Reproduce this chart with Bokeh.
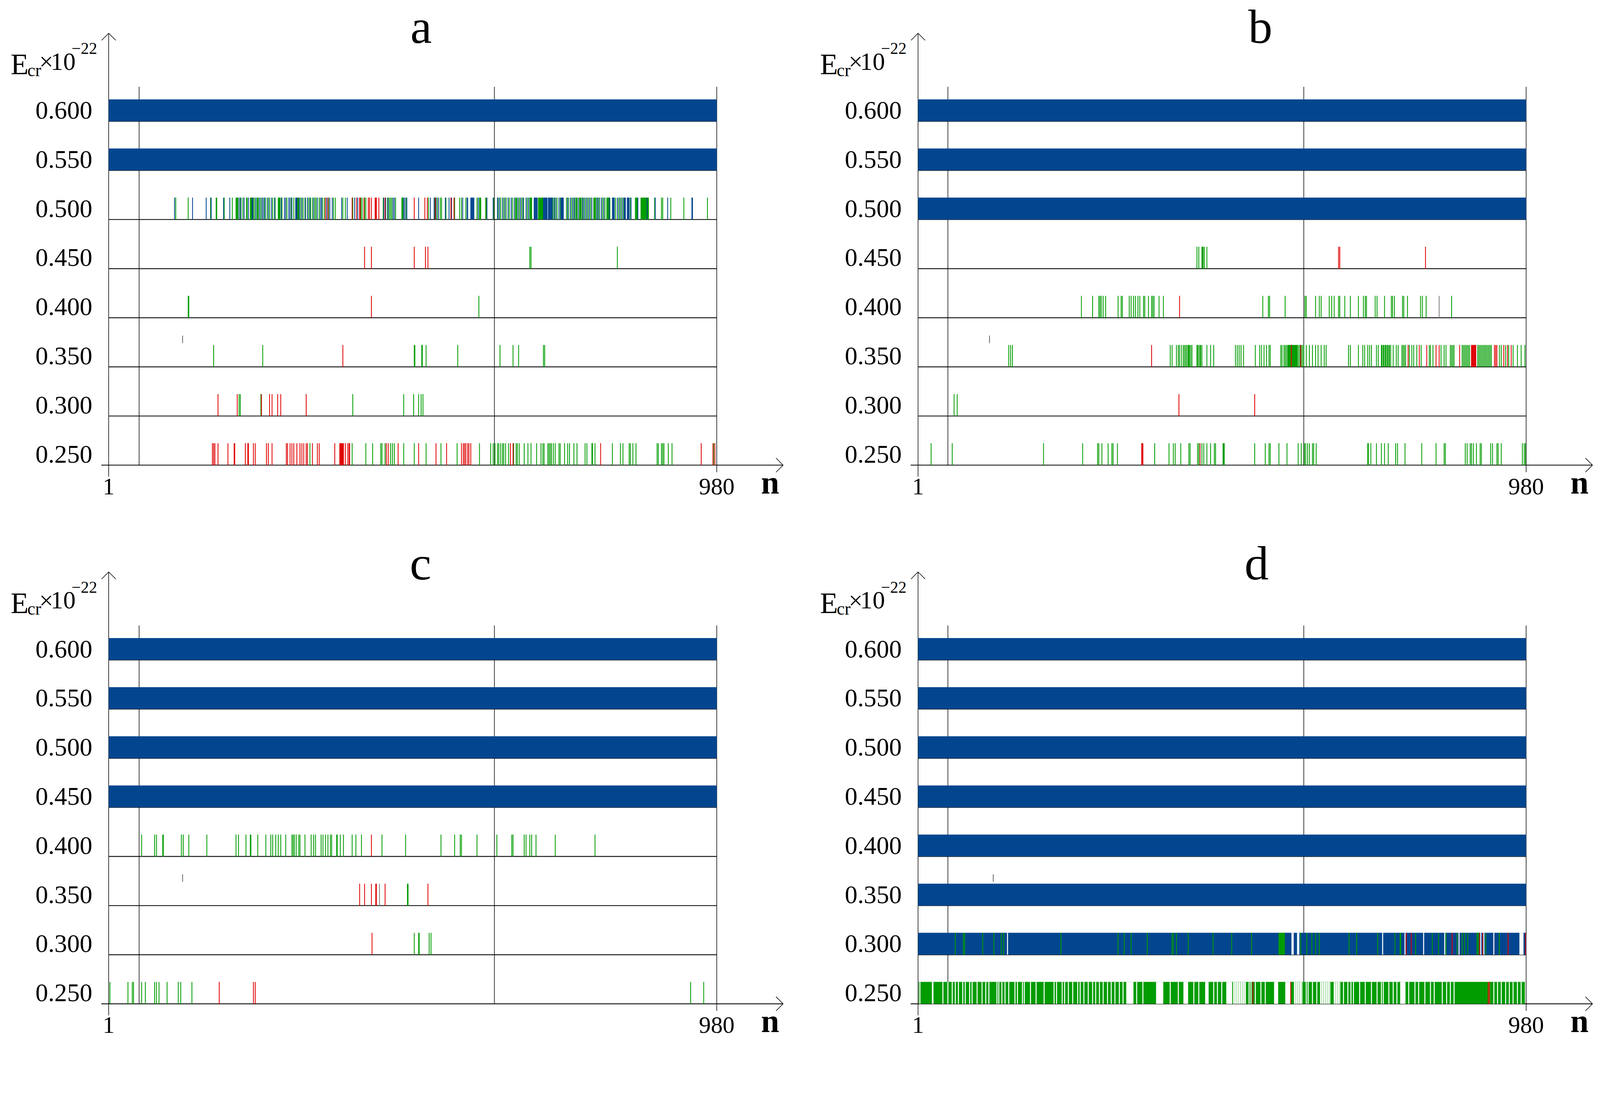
from bokeh.plotting import figure
from bokeh.layouts import column, row
from bokeh.embed import file_html
from bokeh.resources import INLINE
from bokeh.core.properties import value

GREEN = "#009c00"
RED = "#e00000"
BLUE = "#03468f"
GRAY = "#808080"
FONT = value("Liberation Serif")

levels = [0.250, 0.300, 0.350, 0.400, 0.450, 0.500, 0.550, 0.600]
level_labels = ["0.250", "0.300", "0.350", "0.400", "0.450", "0.500", "0.550", "0.600"]
n_first, n_last = 1, 980

# ---- panel a ----
a_full = [0.55, 0.60]
a_500_green = [109, 129, 165, 174, 175, 187, 200, 206, 207, 208, 209, 213, 217, 223, 224, 229, 230, 231,
               234, 236, 240, 241, 242, 246, 252, 256, 260, 265, 269, 274, 275, 276, 277, 280, 288, 295,
               299, 305, 306, 307, 310, 314, 318, 323, 326, 329, 333, 335, 340, 345, 348, 355, 363, 366,
               378, 382, 394, 407, 409, 413, 415, 443, 450, 453, 455, 457, 463, 473, 474, 475, 480, 516,
               526, 530, 535, 537, 544, 558, 566, 569, 576, 594, 598, 599, 600, 608, 609, 621, 628, 632,
               637, 641, 646, 651, 656, 657, 658, 662, 666, 669, 675, 679, 680, 681, 682, 693, 694, 695,
               696, 697, 698, 699, 700, 716, 719, 723, 728, 738, 741, 746, 750, 753, 754, 755, 759, 760,
               761, 762, 765, 769, 773, 777, 782, 783, 784, 785, 788, 791, 796, 800, 803, 804, 805, 806,
               808, 817, 822, 826, 830, 841, 849, 850, 851, 852, 858, 859, 860, 861, 862, 863, 864, 865,
               866, 867, 869, 870, 880, 891, 893, 906, 927, 965]
a_500_blue = [107, 136, 158, 166, 186, 196, 211, 214, 219, 226, 232, 233, 238, 244, 248, 250, 253, 258,
              263, 268, 279, 284, 286, 291, 293, 296, 302, 303, 304, 308, 312, 317, 321, 325, 331, 337,
              342, 344, 352, 357, 361, 376, 385, 397, 402, 444, 447, 451, 459, 461, 476, 478, 481, 500,
              519, 525, 528, 532, 543, 549, 553, 571, 578, 579, 584, 585, 586, 587, 588, 589, 596, 610,
              620, 627, 630, 635, 639, 644, 649, 654, 660, 664, 668, 673, 677, 686, 687, 688, 689, 690,
              691, 701, 702, 703, 704, 705, 706, 707, 709, 710, 711, 712, 713, 714, 715, 718, 721, 726,
              729, 730, 731, 732, 733, 740, 744, 748, 751, 757, 764, 767, 771, 775, 779, 787, 790, 794,
              798, 807, 812, 813, 814, 815, 820, 824, 828, 831, 832, 833, 836, 837, 838, 839, 842, 853,
              868, 881, 901, 940, 941]
a_500_red = [350, 354, 393, 400, 405, 406, 412, 419, 421, 424, 430, 431, 432, 436, 446, 493, 510, 514,
             527, 552, 557]
a_450_red = [413, 424, 493, 511, 515]
a_450_green = [679, 681, 820]
a_400_green = [129, 130, 597]
a_400_red = [424]
a_350_green = [170, 249, 493, 494, 505, 506, 512, 563, 631, 652, 661, 701, 703]
a_350_red = [378]
a_300_red = [177, 208, 247, 260, 264, 273, 278, 319]
a_300_green = [211, 213, 246, 394, 476, 492, 500, 504, 507]
a_250_red = [168, 170, 172, 177, 193, 203, 204, 221, 225, 226, 234, 237, 255, 258, 264, 287, 289, 293,
             296, 299, 304, 309, 312, 315, 319, 321, 329, 337, 340, 365, 373, 374, 375, 376, 377, 378,
             379, 382, 386, 388, 389, 448, 451, 467, 500, 528, 545, 569, 572, 574, 576, 579, 581, 584,
             648, 652, 793, 955, 974, 977]
a_250_green = [325, 393, 415, 426, 439, 441, 446, 455, 458, 461, 476, 493, 512, 536, 562, 598, 616, 620,
               623, 627, 629, 632, 635, 637, 640, 645, 653, 657, 659, 662, 670, 676, 681, 690, 697, 700,
               702, 708, 710, 712, 714, 717, 720, 726, 728, 735, 740, 743, 750, 755, 768, 771, 779, 780,
               784, 812, 825, 829, 839, 841, 845, 850, 884, 886, 891, 893, 895, 902, 908, 975]

# ---- panel b ----
b_full = [0.50, 0.55, 0.60]
b_450_green = [450, 453, 458, 459, 460, 462, 466]
b_450_red = [678, 680, 818]
b_400_green = [264, 282, 292, 294, 296, 299, 303, 323, 328, 330, 341, 344, 348, 351, 355, 358, 364, 366,
               372, 377, 379, 381, 389, 396, 556, 565, 567, 592, 624, 626, 641, 647, 650, 663, 667, 671,
               678, 680, 688, 697, 710, 718, 721, 723, 737, 740, 752, 763, 765, 768, 781, 783, 789, 810,
               813, 819, 860]
b_400_red = [422]
b_400_gray = [840]
b_350_green = [147, 150, 153, 407, 410, 417, 420, 422, 425, 428, 430, 432, 434, 436, 437, 438, 440, 442,
               450, 451, 453, 455, 456, 458, 466, 472, 477, 512, 515, 518, 521, 525, 544, 551, 554, 558,
               562, 566, 568, 585, 587, 590, 592, 594, 596, 597, 598, 599, 600, 601, 603, 604, 605, 606,
               607, 608, 609, 610, 611, 612, 614, 616, 618, 620, 622, 626, 631, 636, 641, 645, 650, 655,
               658, 694, 697, 710, 717, 720, 725, 728, 731, 739, 742, 747, 748, 750, 751, 753, 754, 756,
               757, 759, 760, 762, 766, 771, 774, 780, 782, 784, 786, 792, 796, 799, 804, 811, 824, 826,
               830, 843, 848, 851, 858, 860, 862, 864, 877, 879, 881, 883, 885, 887, 889, 902, 904, 906,
               908, 910, 912, 914, 916, 918, 920, 922, 924, 937, 940, 947, 952, 959, 966, 972, 978]
b_350_red = [377, 602, 617, 790, 808, 820, 835, 840, 873, 892, 893, 894, 895, 896, 897, 898, 899, 929,
             931, 933, 944, 950, 956]
b_300_green = [59, 64]
b_300_red = [421, 543]
b_250_green = [22, 56, 203, 266, 290, 292, 297, 307, 313, 315, 322, 382, 405, 412, 415, 424, 437, 439,
               451, 453, 458, 461, 466, 472, 478, 480, 492, 493, 494, 543, 560, 566, 568, 582, 595, 613,
               618, 623, 625, 628, 631, 636, 638, 642, 725, 726, 730, 739, 747, 752, 758, 770, 773, 785,
               812, 835, 848, 850, 882, 885, 890, 892, 895, 900, 906, 908, 923, 926, 933, 935, 940, 974,
               977, 979]
b_250_red = [361, 362, 363, 455]

# ---- panel c ----
c_full = [0.45, 0.50, 0.55, 0.60]
c_400_green = [54, 75, 78, 88, 89, 118, 121, 130, 159, 206, 210, 222, 229, 230, 241, 254, 262, 265, 270,
               274, 278, 286, 296, 298, 300, 303, 307, 309, 317, 327, 331, 334, 343, 346, 350, 354, 358,
               360, 368, 369, 374, 379, 393, 399, 408, 441, 479, 536, 558, 567, 569, 594, 626, 650, 652,
               670, 673, 679, 682, 689, 720, 784]
c_400_red = [424]
c_350_red = [405, 413, 424, 431, 432, 446, 515]
c_350_green = [482, 483]
c_350_gray = [437]
c_300_red = [425]
c_300_green = [493, 500, 501, 517, 520]
c_250_green = [3, 32, 39, 41, 54, 60, 75, 78, 82, 95, 113, 117, 135, 938, 959]
c_250_red = [179, 234, 237]

# ---- panel d ----
d_full = [0.35, 0.40, 0.45, 0.50, 0.55, 0.60]
d_300_green = [61, 74, 76, 105, 123, 135, 139, 231, 323, 333, 344, 370, 410, 412, 417, 436, 476, 506,
               538, 582, 583, 584, 585, 586, 587, 588, 589, 590, 591, 617, 627, 635, 641, 647, 695, 707,
               741, 769, 777, 778, 802, 829, 839, 851, 869, 877, 881, 886, 901, 902, 904, 915, 937]
d_300_gap = [145, 603, 604, 605, 612, 613, 614, 749, 785, 815, 849, 872, 907, 912, 928, 970, 971, 972,
             973, 974, 975]
d_300_red = [787, 795, 861, 905, 910, 951, 979]
d_250_gap = [4, 24, 25, 41, 49, 56, 61, 66, 73, 77, 84, 88, 96, 104, 110, 115, 128, 131, 136, 141, 147,
             157, 161, 169, 172, 182, 191, 204, 220, 224, 233, 237, 243, 250, 258, 262, 268, 275, 282,
             287, 293, 299, 306, 312, 318, 325, 331, 337, 338, 339, 340, 341, 342, 343, 344, 345, 346,
             347, 353, 363, 385, 386, 387, 388, 389, 390, 391, 392, 393, 394, 395, 407, 420, 429, 430,
             431, 432, 433, 434, 435, 445, 453, 464, 465, 466, 467, 468, 477, 483, 490, 498, 499, 500,
             501, 502, 503, 504, 505, 506, 509, 510, 512, 513, 515, 516, 518, 519, 521, 522, 524, 525,
             527, 528, 534, 537, 544, 553, 560, 575, 576, 577, 578, 579, 580, 593, 594, 595, 596, 597,
             598, 599, 600, 607, 608, 610, 611, 613, 614, 616, 617, 619, 626, 629, 636, 643, 649, 650,
             652, 653, 655, 656, 658, 659, 661, 662, 664, 671, 672, 674, 675, 677, 678, 680, 686, 693,
             698, 702, 712, 721, 731, 740, 747, 750, 759, 766, 772, 778, 779, 780, 781, 782, 783, 784,
             785, 791, 801, 807, 817, 826, 832, 845, 852, 858, 864, 921, 928, 934, 940, 947, 953, 959,
             966, 972]
d_250_red = [540, 601, 919, 921]

# geometry: measured in screenshot pixels (R), S turns them into CSS pixels
S = 4096 / 4306
PXN = 1.6715 * S          # CSS px per n
PXY = 2645.0 * S          # CSS px per E unit
HB = 0.01115              # half height of a row band
X0 = 1 - (292 * S) / PXN
BASE_R = 1251.7           # screenshot y of the lowest row baseline in panel a
MID = 0.3375              # em distance from alphabetic baseline up to the em-box middle


def fs(v):
    return "%.1fpx" % (v * S)


def marks(p, level, ns, color, w=1.3):
    if ns:
        p.vbar(x=ns, width=w, bottom=level - HB, top=level + HB,
               fill_color=color, line_color=None)


def band(p, level, color, left=n_first, right=n_last):
    p.quad(left=[left], right=[right], bottom=[level - HB], top=[level + HB],
           fill_color=color, line_color=None)


def label(p, x, y, txt, size, align="left", style="normal"):
    # y is the wanted alphabetic baseline (data units); draw with middle baseline
    p.text(x=[x], y=[y + MID * size / 2645], text=[txt], text_align=align,
           text_baseline="middle", text_font=FONT, text_font_size=fs(size),
           text_font_style=style, text_color="black")


def panel(title, title_n, title_px, width, height, top_css, dy_r, grid_n, art_n, layers):
    b0 = levels[0] - HB
    y_top = b0 + (BASE_R + dy_r - top_css / S) / 2645

    def yr(r):  # screenshot y (panel a frame) -> data
        return b0 + (BASE_R - r) / 2645

    p = figure(width=width, height=height, x_range=(X0, X0 + width / PXN),
               y_range=(y_top - height / PXY, y_top), output_backend="svg",
               toolbar_location=None, min_border=0, x_axis_type=None, y_axis_type=None)
    p.grid.visible = False
    p.outline_line_color = None

    base = [v - HB for v in levels]
    arrow_top = yr(89)
    grid_top = yr(233)
    x_arrow = 1 + 1815 / 1.6715

    # row baselines and axes
    p.segment(x0=[n_first] * 7 + [1 - 20 / 1.6715], y0=base[1:] + [b0],
              x1=[n_last] * 7 + [x_arrow], y1=base[1:] + [b0],
              line_color="#1c1c1c", line_width=2.4)
    p.segment(x0=[n_first, grid_n[0], grid_n[1], n_last],
              y0=[b0 - 31 / 2645, b0, b0, b0 - 19 / 2645],
              x1=[n_first, grid_n[0], grid_n[1], n_last],
              y1=[arrow_top, grid_top, grid_top, grid_top],
              line_color="black", line_width=1.5)
    dx, dy = 19 / 1.6715, 19 / 2645
    p.multi_line(xs=[[n_first - dx, n_first, n_first + dx], [x_arrow - dx, x_arrow, x_arrow - dx]],
                 ys=[[arrow_top - dy, arrow_top, arrow_top - dy], [b0 + dy, b0, b0 - dy]],
                 line_color="black", line_width=1.5)

    for level, kind, ns, color in layers:
        if kind == "band":
            band(p, level, color)
        elif kind == "gband":
            band(p, level, color, 2, 978)
        elif kind == "gap":
            marks(p, level, ns, color, 1.6)
        else:
            marks(p, level, ns, color)

    # small dark stroke above the 0.350 row
    p.segment(x0=[art_n], y0=[0.35 - HB + 0.0242], x1=[art_n], y1=[0.35 - HB + 0.0318],
              line_color="#333333", line_width=1.5)

    p.text(x=[n_first] * len(levels), y=levels, text=level_labels, x_offset=-44 * S,
           text_align="right", text_baseline="middle", text_font=FONT,
           text_font_size=fs(68), text_color="black")
    label(p, n_first, b0 - 79 / 2645, "1", 64, "center")
    label(p, n_last, b0 - 79 / 2645, "980", 64, "center")
    label(p, 1066, b0 - 76 / 2645, "n", 88, "center", "bold")
    label(p, title_n, yr(title_px), title, 130, "center")

    # E_cr x 10^-22
    pieces = [("E", -264, 199, 79), ("cr", -219, 204, 48), ("\u00d7", -187, 188, 67),
              ("10", -156, 188, 67), ("\u221222", -100, 145, 44)]
    for txt, ox, by, size in pieces:
        label(p, n_first + ox / 1.6715, yr(by), txt, size)
    return p


def layers_for(full, rows):
    out = [(v, "band", None, BLUE) for v in full]
    return out + rows


TOP_H, BOT_H = 1352, 1320
W_LEFT, W_RIGHT = 2072, 2012
DY_BOTTOM = 1450.3

pa = panel("a", 504, 115, W_LEFT, TOP_H, 0, 0, [50, 622], 120, layers_for(a_full, [
    (0.50, "m", a_500_green, GREEN), (0.50, "m", a_500_blue, BLUE), (0.50, "m", a_500_red, RED),
    (0.45, "m", a_450_red, RED), (0.45, "m", a_450_green, GREEN),
    (0.40, "m", a_400_green, GREEN), (0.40, "m", a_400_red, RED),
    (0.35, "m", a_350_green, GREEN), (0.35, "m", a_350_red, RED),
    (0.30, "m", a_300_green, GREEN), (0.30, "m", a_300_red, RED),
    (0.25, "m", a_250_green, GREEN), (0.25, "m", a_250_red, RED),
]))

pb = panel("b", 552, 115, W_RIGHT, TOP_H, 0, 0, [49, 622], 116, layers_for(b_full, [
    (0.45, "m", b_450_green, GREEN), (0.45, "m", b_450_red, RED),
    (0.40, "m", b_400_green, GREEN), (0.40, "m", b_400_red, RED), (0.40, "m", b_400_gray, GRAY),
    (0.35, "m", b_350_green, GREEN), (0.35, "m", b_350_red, RED),
    (0.30, "m", b_300_green, GREEN), (0.30, "m", b_300_red, RED),
    (0.25, "m", b_250_green, GREEN), (0.25, "m", b_250_red, RED),
]))

pc = panel("c", 503, 109, W_LEFT, BOT_H, TOP_H, DY_BOTTOM, [50, 622], 120, layers_for(c_full, [
    (0.40, "m", c_400_green, GREEN), (0.40, "m", c_400_red, RED),
    (0.35, "m", c_350_red, RED), (0.35, "m", c_350_green, GREEN), (0.35, "m", c_350_gray, GRAY),
    (0.30, "m", c_300_red, RED), (0.30, "m", c_300_green, GREEN),
    (0.25, "m", c_250_green, GREEN), (0.25, "m", c_250_red, RED),
]))

pd = panel("d", 546, 109, W_RIGHT, BOT_H, TOP_H, DY_BOTTOM, [49, 622], 122,
           layers_for(d_full + [0.30], [
               (0.30, "m", d_300_green, GREEN), (0.30, "gap", d_300_gap, "white"),
               (0.30, "m", d_300_red, RED),
               (0.25, "gband", None, GREEN), (0.25, "gap", d_250_gap, "white"),
               (0.25, "m", d_250_red, RED),
           ]))

p = column(row(pa, pb), row(pc, pd))
open("out.html", "w").write(file_html(p, INLINE))
